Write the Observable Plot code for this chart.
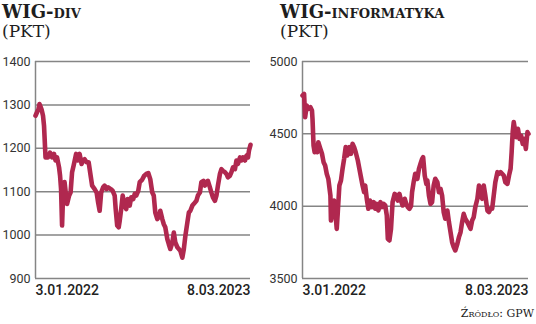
<!DOCTYPE html>
<html>
<head>
<meta charset="utf-8">
<script src="https://cdn.jsdelivr.net/npm/d3@7"></script>
<script src="https://cdn.jsdelivr.net/npm/@observablehq/plot@0.6"></script>
<style>
  html, body { margin: 0; padding: 0; background: #fff; }
  #root { position: relative; width: 536px; height: 324px; overflow: hidden; }
  .title { position: absolute; font-family: "DejaVu Serif", "Liberation Serif", serif; font-weight: bold; font-size: 18px; color: #1e1e1e; line-height: 1; white-space: nowrap; }
  .title .sc { font-variant: small-caps; }
  .unit { position: absolute; font-family: "DejaVu Serif", "Liberation Serif", serif; font-size: 17px; color: #1e1e1e; line-height: 1; }
  .panel { position: absolute; top: 48px; }
  .source { position: absolute; right: 2px; top: 307px; font-family: "DejaVu Serif", "Liberation Serif", serif; font-size: 11px; font-variant: small-caps; color: #222; }
</style>
</head>
<body>
<div id="root">
  <div class="title" style="left:2px; top:3px;">WIG<span class="sc">-div</span></div>
  <div class="unit" style="left:2px; top:23px;">(PKT)</div>
  <div class="title" style="left:280px; top:3px;">WIG<span class="sc">-informatyka</span></div>
  <div class="unit" style="left:280px; top:23px;">(PKT)</div>
  <div id="left" class="panel" style="left:0px;"></div>
  <div id="right" class="panel" style="left:268px;"></div>
  <div class="source">Źródło: GPW</div>
</div>
<script>
// Time span and x labels
const startDate = "2022-01-03";
const endDate = "2023-03-08";
const xLabels = ["3.01.2022", "8.03.2023"];

// WIG-div: calendar days since 3.01.2022 and index values
const divDays = [0,3,6,8,12,15,17,20,25,29,33,37,40,43,47,49,51,53,55,58,61,63,67,70,73,76,81,84,88,92,95,98,102,106,110,113,118,122,125,128,131,135,138,142,145,150,154,158,160,163,166,168,171,174,178,181,184,188,191,195,198,201,205,208,213,217,221,225,229,233,236,239,243,246,249,253,256,259,263,266,269,273,276,279,283,286,289,293,296,299,303,306,309,313,316,321,324,328,331,335,338,341,344,348,351,354,358,361,364,368,371,374,378,381,384,388,391,394,398,401,404,408,411,414,418,421,424,426,429];
const divValues = [1275,1283,1290,1302,1290,1275,1252,1179,1179,1190,1179,1187,1172,1179,1156,1137,1106,1022,1091,1122,1091,1072,1091,1098,1145,1160,1187,1172,1187,1164,1172,1175,1168,1168,1137,1114,1106,1098,1075,1056,1098,1110,1114,1106,1110,1106,1102,1091,1060,1022,1018,1033,1060,1091,1068,1060,1083,1068,1087,1083,1095,1091,1102,1122,1128,1137,1141,1143,1129,1098,1091,1052,1037,1041,1056,1037,1025,1018,991,979,968,983,1006,983,972,968,964,948,968,998,1029,1052,1056,1068,1072,1079,1091,1098,1122,1125,1114,1122,1125,1110,1098,1087,1079,1091,1114,1141,1152,1148,1145,1141,1133,1137,1145,1156,1152,1172,1164,1179,1172,1179,1172,1183,1179,1195,1208];
const divTicks = [900,1000,1100,1200,1300,1400];

// WIG-informatyka: calendar days since 3.01.2022 and index values
const infDays = [0,3,5,8,11,15,18,19,21,23,25,28,30,34,37,40,43,46,49,53,54,57,60,62,65,67,70,73,76,79,82,85,89,92,95,98,101,105,108,111,114,117,119,122,125,128,132,135,138,141,144,148,151,154,157,160,162,165,168,171,175,178,181,184,187,190,194,197,200,203,206,208,211,214,218,221,224,227,229,232,235,237,240,243,246,249,252,256,259,262,265,268,271,275,278,281,284,287,290,294,297,300,303,306,309,313,316,319,322,325,328,332,335,338,341,344,347,351,354,357,360,363,366,370,373,376,379,382,385,389,392,395,397,399,401,403,406,409,412,415,418,421,424,427,429];
const infValues = [4765,4776,4615,4696,4673,4684,4661,4604,4419,4373,4419,4373,4442,4396,4362,4304,4281,4224,4189,4074,3901,3959,4039,3970,3843,3959,4143,4177,4258,4327,4408,4350,4408,4362,4431,4408,4373,4316,4258,4200,4143,4097,4143,4051,3982,4039,3993,4028,3982,4016,3970,4028,3993,4016,4005,3936,3774,3763,3843,4028,4085,4074,4039,4085,4039,4005,4051,4016,3993,3982,4000,4097,4166,4224,4189,4258,4293,4327,4339,4212,4154,4177,4074,4016,4028,4143,4189,4166,4097,4120,4074,3959,3913,3970,3889,3820,3751,3717,3694,3740,3786,3820,3889,3947,3913,3889,3866,3843,3901,3924,3993,4051,4143,4097,4051,4143,4074,3970,3959,3982,3982,4074,4166,4235,4224,4235,4224,4212,4166,4154,4212,4258,4373,4512,4581,4535,4477,4535,4465,4488,4431,4465,4396,4512,4500];
const infTicks = [3500,4000,4500,5000];

const lineColor = "#b0284f";
const gridColor = "#858585";

const t0 = new Date(startDate + "T00:00:00Z");
const t1 = new Date(endDate + "T00:00:00Z");

function panel(days, values, ticks, marginLeft, marginRight) {
  const data = days.map((d, i) => ({date: d3.utcDay.offset(t0, d), value: values[i]}));
  const yMin = ticks[0], yMax = ticks[ticks.length - 1];
  return Plot.plot({
    width: 268,
    height: 250,
    marginLeft,
    marginRight,
    marginTop: 13,
    marginBottom: 20,
    style: {fontFamily: "Roboto, sans-serif", fontSize: "12.5px", color: "#333", background: "transparent", overflow: "visible"},
    x: {type: "utc", domain: [t0, t1], axis: null},
    y: {domain: [yMin, yMax], axis: null},
    marks: [
      Plot.ruleY(ticks, {stroke: gridColor, strokeWidth: 1.5}),
      Plot.ruleX([t0], {stroke: gridColor, strokeWidth: 1.5}),
      Plot.axisY(ticks, {tickSize: 0, tickPadding: 5, label: null, tickFormat: d => String(d), fill: "#333"}),
      Plot.line(data, {x: "date", y: "value", stroke: lineColor, strokeWidth: 4.6, strokeLinejoin: "round", strokeLinecap: "round"}),
      Plot.text([xLabels[0]], {x: () => t0, y: () => yMin, text: d => d, textAnchor: "start", lineAnchor: "middle", dy: 12, fontSize: 14, fontWeight: 500, fill: "#222"}),
      Plot.text([xLabels[1]], {x: () => t1, y: () => yMin, text: d => d, textAnchor: "end", lineAnchor: "middle", dy: 12, fontSize: 14, fontWeight: 500, fill: "#222"})
    ]
  });
}

document.getElementById("left").append(panel(divDays, divValues, divTicks, 35, 18));
document.getElementById("right").append(panel(infDays, infValues, infTicks, 34, 8));
</script>
</body>
</html>
